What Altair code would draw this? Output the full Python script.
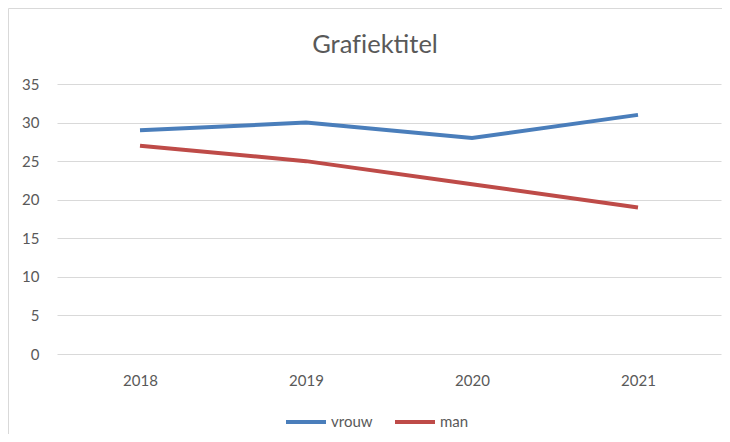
import altair as alt
import pandas as pd

years = ["2018", "2019", "2020", "2021"]
vrouw = [29, 30, 28, 31]
man = [27, 25, 22, 19]
series = ["vrouw", "man"]
colors = ["#4A7EBB", "#BE4B48"]
y_ticks = [0, 5, 10, 15, 20, 25, 30, 35]

rows = []
for name, vals in zip(series, [vrouw, man]):
    for yr, v in zip(years, vals):
        rows.append({"jaar": yr, "waarde": v, "reeks": name})
df = pd.DataFrame(rows)

FONT = "Lato"
TXT = "#595959"

lines = alt.Chart(df).mark_line(strokeWidth=4).encode(
    x=alt.X("jaar:O", sort=years,
            scale=alt.Scale(type="point", padding=0.5),
            axis=alt.Axis(title=None, labelAngle=0, ticks=False, domain=False, grid=False,
                          labelPadding=19, labelFontSize=15, labelColor=TXT, labelFont=FONT)),
    y=alt.Y("waarde:Q", scale=alt.Scale(domain=[0, 35], nice=False),
            axis=alt.Axis(title=None, values=y_ticks, ticks=False, domain=False,
                          gridColor="#d9d9d9", gridWidth=1, labelPadding=18,
                          labelFontSize=15, labelColor=TXT, labelFont=FONT)),
    color=alt.Color("reeks:N", sort=series,
                    scale=alt.Scale(domain=series, range=colors),
                    legend=alt.Legend(orient="none", legendX=227, legendY=316,
                                      direction="horizontal", title=None,
                                      symbolType="stroke", symbolSize=1600,
                                      symbolStrokeWidth=4, labelFontSize=15,
                                      labelColor=TXT, labelFont=FONT,
                                      columnPadding=14, labelOffset=3)),
)

one = pd.DataFrame({"t": ["Graf\u200ciektitel"]})
title = alt.Chart(one).mark_text(font=FONT, fontSize=25.5, color=TXT, align="center",
                                 baseline="alphabetic").encode(
    text="t:N", x=alt.value(318), y=alt.value(-31))

border_top = alt.Chart(one).mark_rule(color="#d9d9d9", strokeWidth=1).encode(
    x=alt.value(-48.5), x2=alt.value(700), y=alt.value(-75.5))
border_left = alt.Chart(one).mark_rule(color="#d9d9d9", strokeWidth=1).encode(
    x=alt.value(-48.5), y=alt.value(-75.5), y2=alt.value(400))

chart = alt.layer(border_top, border_left, lines, title).properties(
    width=664, height=270,
    autosize=alt.AutoSizeParams(type="none"),
    padding={"left": 49, "top": 76, "right": 1, "bottom": 80},
).configure_view(stroke=None)

chart.save("out.html", embed_options={"renderer": "svg", "actions": False})
